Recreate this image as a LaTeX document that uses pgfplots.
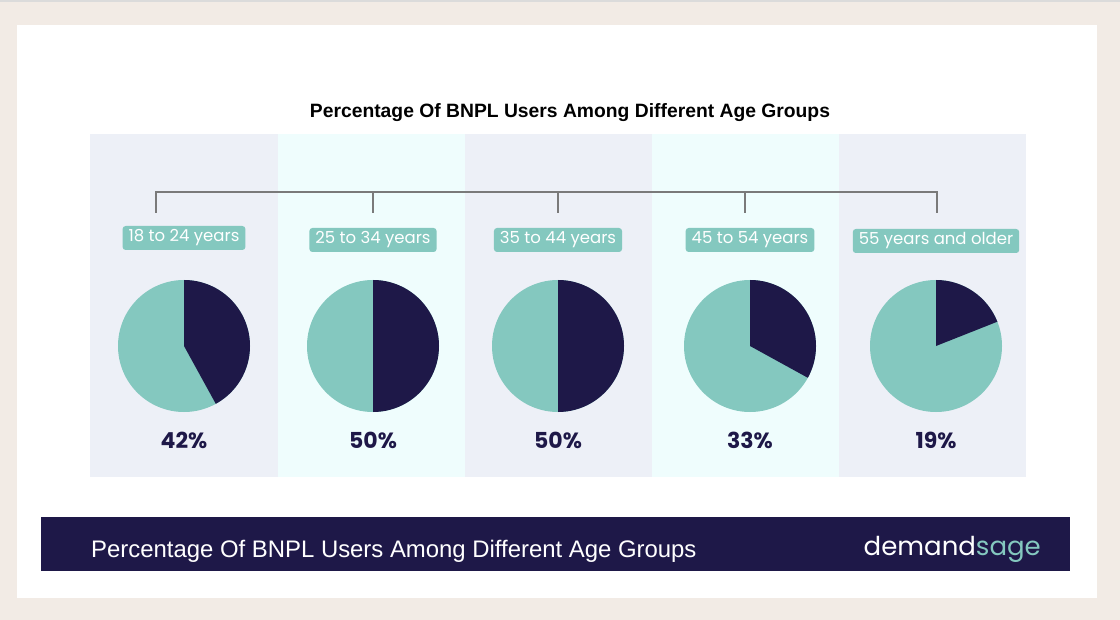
\documentclass[border=0pt]{standalone}
\usepackage{pgfplots}
\pgfplotsset{compat=1.18}
\usepackage{pgfplotstable}
\usepackage{fontspec}
\setmainfont{Liberation Sans}
\newfontfamily\pop{Poppins}
\definecolor{navy}{HTML}{1E1848}
\definecolor{tealc}{HTML}{84C8BF}
\definecolor{colA}{HTML}{EDF0F7}
\definecolor{colB}{HTML}{EFFDFD}
\definecolor{beige}{HTML}{F2EBE5}
\definecolor{conn}{HTML}{7A7A7A}
\newcommand\lblfont{\pop\fontsize{16.5bp}{19bp}\selectfont}
\newcommand\pctfont{\pop\bfseries\fontsize{22bp}{25bp}\selectfont}
\pgfplotstableread[col sep=comma]{
cx,ly,pct,label
184,238,42,18 to 24 years
373,240,50,25 to 34 years
558,240,50,35 to 44 years
750,240,33,45 to 54 years
936,241,19,55 years and older
}\agedata
\begin{document}
\begin{tikzpicture}
\begin{axis}[x=1bp,y=1bp,y dir=reverse,xmin=0,xmax=1120,ymin=0,ymax=620,
  hide axis,clip=false]
% background
\fill[beige] (axis cs:0,0) rectangle (axis cs:1120,620);
\fill[black!14] (axis cs:0,0) rectangle (axis cs:1120,2.5);
\fill[white] (axis cs:17,25) rectangle (axis cs:1097,598);
% columns
\fill[colA] (axis cs:90,134) rectangle (axis cs:278,477);
\fill[colB] (axis cs:278,134) rectangle (axis cs:465,477);
\fill[colA] (axis cs:465,134) rectangle (axis cs:652,477);
\fill[colB] (axis cs:652,134) rectangle (axis cs:839,477);
\fill[colA] (axis cs:839,134) rectangle (axis cs:1026,477);
% title
\node[font=\bfseries\fontsize{19.3bp}{22bp}\selectfont] at (axis cs:570,113) {Percentage Of BNPL Users Among Different Age Groups};
% connector
\draw[conn,line width=1.3bp] (axis cs:156,213) -- (axis cs:156,192) -- (axis cs:937,192) -- (axis cs:937,213);
\draw[conn,line width=1.3bp] (axis cs:373,192) -- (axis cs:373,213);
\draw[conn,line width=1.3bp] (axis cs:558,192) -- (axis cs:558,213);
\draw[conn,line width=1.3bp] (axis cs:745,192) -- (axis cs:745,213);
% pies
\pgfplotsinvokeforeach{0,...,4}{
  \pgfplotstablegetelem{#1}{cx}\of\agedata \let\cx\pgfplotsretval
  \pgfplotstablegetelem{#1}{ly}\of\agedata \let\ly\pgfplotsretval
  \pgfplotstablegetelem{#1}{pct}\of\agedata \let\pct\pgfplotsretval
  \pgfplotstablegetelem{#1}{label}\of\agedata \let\lab\pgfplotsretval
  \pgfmathsetmacro\ea{90-3.6*\pct}
  \edef\doit{%
    \noexpand\fill[tealc] (axis cs:\cx,346) circle[radius=66bp];
    \noexpand\fill[navy] (axis cs:\cx,346) -- ++(90:66bp) arc[start angle=90,end angle=\ea,radius=66bp] -- cycle;
    \noexpand\node[font=\noexpand\pctfont,text=navy] at (axis cs:\cx,440) {\pct\noexpand\%};
    \noexpand\node[fill=tealc,text=white,rounded corners=3bp,minimum height=24bp,inner xsep=6bp,inner ysep=0pt,font=\noexpand\lblfont] at (axis cs:\cx,\ly) {\lab};
  }
  \doit
}
% footer
\fill[navy] (axis cs:41,517) rectangle (axis cs:1070,571);
\node[anchor=west,text=white,font=\fontsize{23.9bp}{26bp}\selectfont,inner sep=0pt] at (axis cs:91,551) {Percentage Of BNPL Users Among Different Age Groups};
\node[anchor=east,font=\pop\fontsize{26bp}{29bp}\selectfont,inner sep=0pt] at (axis cs:1041,549) {\textcolor{white}{demand}\textcolor{tealc}{sage}};
\end{axis}
\end{tikzpicture}
\end{document}
